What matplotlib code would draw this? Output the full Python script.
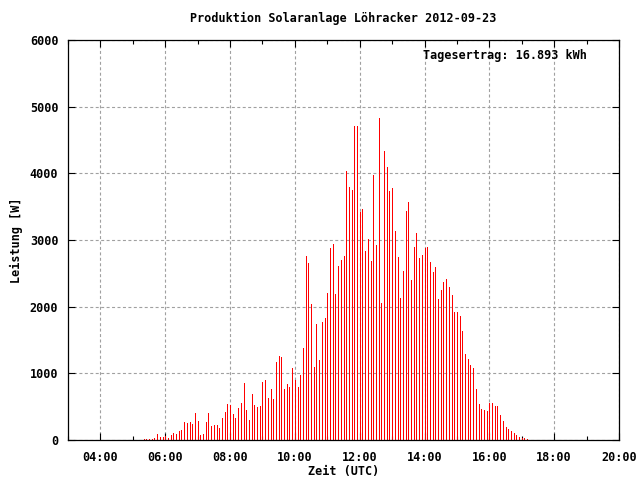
import matplotlib
matplotlib.use("Agg")
import matplotlib.pyplot as plt
from matplotlib.ticker import FixedLocator, FuncFormatter, MultipleLocator

# ---- data (5-minute samples, UTC) ----
start_time = "05:20"
step_minutes = 5
power_w = [
    15, 15, 15, 15, 30, 90, 45, 45, 60, 30, 75, 105, 90, 135, 150, 270, 255, 270, 240, 405,
    285, 75, 90, 270, 405, 210, 225, 225, 180, 330, 420, 540, 525, 390, 330, 480, 555, 855,
    450, 300, 690, 525, 495, 510, 870, 900, 630, 765, 615, 1170, 1260, 1245, 765, 840, 795,
    1080, 900, 795,
    975, 1380, 2760, 2655, 2040, 1095, 1740, 1200, 1770, 1830, 2205, 2880, 2940, 2190, 2610,
    2700, 2760,
    4035, 3795, 3750, 4710, 4710, 3420, 3465, 2835, 3015, 2685, 3975, 2925, 4830, 2055, 4335,
    4095, 3735, 3780, 3135, 2745,
    2130, 2535, 3435, 3570, 2400, 2895, 3105, 2730, 2775, 2880, 2895, 2670, 2520, 2595, 2115,
    2250, 2370, 2415, 2295, 2175, 1920, 1920, 1860, 1635, 1290, 1215, 1125, 1080, 765, 540,
    465, 450, 435, 555, 555, 510, 510, 375, 285, 195, 165, 135, 105, 75, 45, 30, 30, 15,
]
x_tick_labels = ["04:00", "06:00", "08:00", "10:00", "12:00", "14:00", "16:00", "18:00", "20:00"]
y_ticks = [0, 1000, 2000, 3000, 4000, 5000, 6000]
title = "Produktion Solaranlage Löhracker 2012-09-23"
yield_text = "Tagesertrag: 16.893 kWh"

h0, m0 = (int(v) for v in start_time.split(":"))
hours = [h0 + (m0 + i * step_minutes) / 60.0 for i in range(len(power_w))]
x_ticks = [int(s.split(":")[0]) for s in x_tick_labels]

FS = 8.5
font = {"family": "DejaVu Sans Mono", "weight": "bold", "size": FS}

fig = plt.figure(figsize=(6.4, 4.8), dpi=100)
ax = fig.add_axes([68 / 640, 40 / 480, 551 / 640, 400 / 480])

ax.vlines(hours, 0, power_w, colors="#ff0000", linewidth=0.5, antialiased=False, zorder=3)

ax.set_xlim(3, 20)
ax.set_ylim(0, 6000)
ax.xaxis.set_major_locator(FixedLocator(x_ticks))
ax.xaxis.set_minor_locator(MultipleLocator(1))
ax.xaxis.set_major_formatter(FuncFormatter(lambda v, p: "%02d:00" % int(round(v))))
ax.yaxis.set_major_locator(FixedLocator(y_ticks))

ax.grid(True, which="major", color="#a0a0a0", linestyle=(0, (2.7, 2.2)), linewidth=0.8)
ax.set_axisbelow(True)

ax.tick_params(which="major", direction="in", length=5, width=0.8, top=True, right=True,
               colors="black")
ax.tick_params(which="minor", direction="in", length=3, width=0.8, top=True, right=False)
ax.tick_params(axis="x", which="major", pad=8)
ax.tick_params(axis="y", which="major", pad=7)
for lab in ax.get_xticklabels() + ax.get_yticklabels():
    lab.set_fontfamily("DejaVu Sans Mono")
    lab.set_fontweight("bold")
    lab.set_fontsize(FS)

for s in ax.spines.values():
    s.set_linewidth(0.9)
    s.set_color("black")
    s.set_zorder(4)

ax.set_xlabel("Zeit (UTC)", fontdict=font, labelpad=1)
ax.set_ylabel("Leistung [W]", fontdict=font, labelpad=5)
fig.text(343.5 / 640, 1 - 18 / 480, title, ha="center", va="center", fontdict=font)
ax.text((587 - 68) / 551, (440 - 56) / 400, yield_text, transform=ax.transAxes,
        ha="right", va="center", fontdict=font)

fig.savefig("out.png", dpi=100)
